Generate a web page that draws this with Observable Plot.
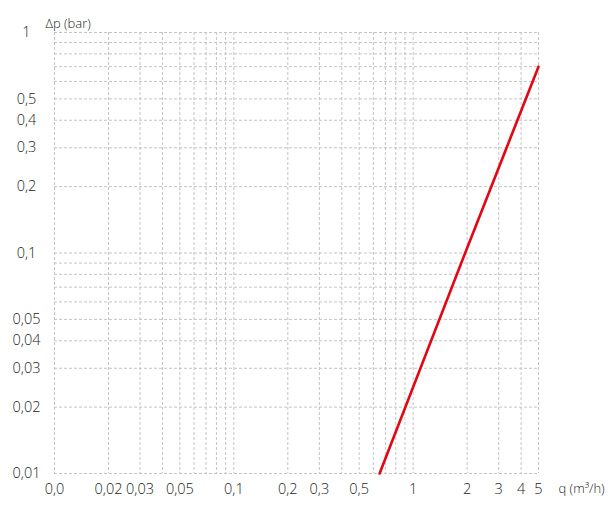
<!DOCTYPE html>
<html>
<head>
<meta charset="utf-8">
<script src="https://cdn.jsdelivr.net/npm/d3@7"></script>
<script src="https://cdn.jsdelivr.net/npm/@observablehq/plot@0.6"></script>
<style>
  body { margin: 0; background: #fff; }
  svg { font-family: "Open Sans", sans-serif; }
</style>
</head>
<body>
<div id="chart"></div>
<script>
// Flow rate q (m³/h) and pressure drop Δp (bar)
const flowQ = [0.65, 1.95, 5];
const pressureDp = [0.01, 0.1, 0.7];

// Axis ticks and labels
const xTickValues = [0.01, 0.02, 0.03, 0.05, 0.1, 0.2, 0.3, 0.5, 1, 2, 3, 4, 5];
const xTickLabels = ["0,0", "0,02", "0,03", "0,05", "0,1", "0,2", "0,3", "0,5", "1", "2", "3", "4", "5"];
const yTickValues = [0.01, 0.02, 0.03, 0.04, 0.05, 0.1, 0.2, 0.3, 0.4, 0.5, 1];
const yTickLabels = ["0,01", "0,02", "0,03", "0,04", "0,05", "0,1", "0,2", "0,3", "0,4", "0,5", "1"];

// Grid values (1–9 per decade)
const xGrid = [0.01,0.02,0.03,0.04,0.05,0.06,0.07,0.08,0.09,0.1,0.2,0.3,0.4,0.5,0.6,0.7,0.8,0.9,1,2,3,4,5];
const yGrid = [0.01,0.02,0.03,0.04,0.05,0.06,0.07,0.08,0.09,0.1,0.2,0.3,0.4,0.5,0.6,0.7,0.8,0.9,1];

const xTitle = "q (m³/h)";
const yTitle = "Δp (bar)";

const data = flowQ.map((q, i) => ({q, dp: pressureDp[i]}));
const xTicks = xTickValues.map((v, i) => ({v, label: xTickLabels[i]}));
const yTicks = yTickValues.map((v, i) => ({v, label: yTickLabels[i]}));

const gridStyle = {stroke: "#c4c4c4", strokeOpacity: 1, strokeDasharray: "3,2", strokeWidth: 1};

const chart = Plot.plot({
  width: 614,
  height: 507,
  marginLeft: 54,
  marginRight: 76,
  marginTop: 32,
  marginBottom: 34,
  style: {fontFamily: "'Open Sans', sans-serif", color: "#222", background: "#fff"},
  x: {type: "log", domain: [0.01, 5], axis: null},
  y: {type: "log", domain: [0.01, 1], axis: null},
  marks: [
    Plot.gridX(xGrid, gridStyle),
    Plot.gridY(yGrid, gridStyle),
    Plot.text(xTicks, {x: "v", text: "label", frameAnchor: "bottom", dy: 20, fontSize: 14.5, fontWeight: 300, fill: "#222"}),
    Plot.text(yTicks, {y: "v", text: "label", frameAnchor: "left", dx: -28, fontSize: 14.5, fontWeight: 300, fill: "#222", textAnchor: "middle"}),
    Plot.line(data, {x: "q", y: "dp", stroke: "#e30613", strokeWidth: 2.6}),
    Plot.text([yTitle], {frameAnchor: "top-left", dx: -9, dy: -14, textAnchor: "start", fontSize: 13, fontWeight: 300, fill: "#222"}),
    Plot.text([xTitle], {frameAnchor: "bottom-right", dx: 20, dy: 19, textAnchor: "start", fontSize: 13, fontWeight: 300, fill: "#222"})
  ]
});
document.getElementById("chart").appendChild(chart);
</script>
</body>
</html>
